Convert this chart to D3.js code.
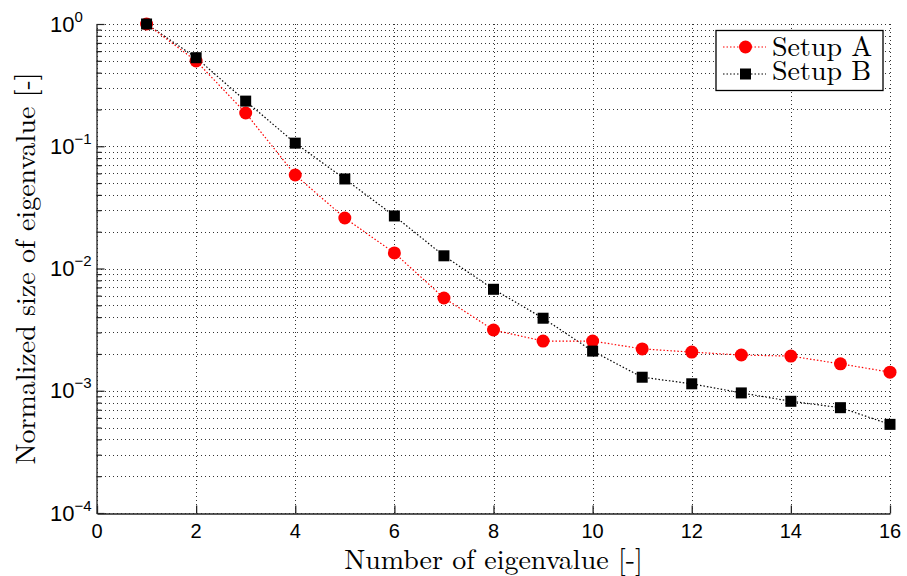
<!DOCTYPE html>
<html>
<head>
<meta charset="utf-8">
<script src="https://cdn.jsdelivr.net/npm/d3@7"></script>
<style>
  body { margin: 0; background: #fff; }
  svg { display: block; }
</style>
</head>
<body>
<svg id="chart" width="907" height="576"></svg>
<script>
// Eigenvalue index and normalized eigenvalue sizes for both setups
const eigIndex = [1, 2, 3, 4, 5, 6, 7, 8, 9, 10, 11, 12, 13, 14, 15, 16];
const setupA = [1.0, 0.498, 0.187, 0.0582, 0.0259, 0.0134, 0.00574, 0.00314,
                0.00255, 0.00255, 0.0022, 0.00207, 0.00196, 0.00192, 0.00166, 0.00142];
const setupB = [1.0, 0.53, 0.234, 0.106, 0.054, 0.0269, 0.0127, 0.00676,
                0.00392, 0.00211, 0.00129, 0.00114, 0.00096, 0.00082, 0.000727, 0.000531];
const seriesNames = ["Setup A", "Setup B"];
const xTicks = [0, 2, 4, 6, 8, 10, 12, 14, 16];
const yExponents = [0, -1, -2, -3, -4];

const svg = d3.select("#chart");
const plotL = 97, plotR = 890, plotT = 24, plotB = 513;

const x = d3.scaleLinear().domain([0, 16]).range([plotL, plotR]);
const y = d3.scaleLog().domain([1e-4, 1]).range([plotB, plotT]);

const serif = "'Latin Modern Roman','CMU Serif','Liberation Serif','DejaVu Serif',serif";
const sans = "'Liberation Sans',Arial,Helvetica,sans-serif";

// Grid: minor and major log lines, plus vertical lines at x ticks
const gridG = svg.append("g").attr("stroke", "#333").attr("stroke-width", 1)
  .attr("stroke-dasharray", "1,3").attr("fill", "none");
const yGridVals = [];
for (let e = -4; e < 0; e++) for (let m = 1; m <= 9; m++) yGridVals.push(m * Math.pow(10, e));
yGridVals.push(1);
yGridVals.forEach(v => {
  const yy = Math.round(y(v)) + 0.5;
  gridG.append("line").attr("x1", plotL).attr("x2", plotR).attr("y1", yy).attr("y2", yy);
});
xTicks.forEach(t => {
  const xx = Math.round(x(t)) + 0.5;
  gridG.append("line").attr("x1", xx).attr("x2", xx).attr("y1", plotT).attr("y2", plotB);
});

// Axes (left and bottom) with inward ticks
const xAxis = d3.axisBottom(x).tickValues(xTicks).tickSizeInner(-8).tickSizeOuter(0).tickFormat("");
svg.append("g").attr("transform", `translate(0,${plotB + 0.5})`).call(xAxis)
  .call(g => g.selectAll("path,line").attr("stroke", "#222").attr("stroke-width", 1.3));

const yAxis = d3.axisLeft(y).tickValues(yGridVals).tickSizeOuter(0).tickFormat("")
  .tickSizeInner(0);
const yG = svg.append("g").attr("transform", `translate(${plotL - 0.5},0)`).call(yAxis);
yG.selectAll("path").attr("stroke", "#222").attr("stroke-width", 1.3);
yG.selectAll(".tick line")
  .attr("x2", d => Math.abs(Math.log10(d) - Math.round(Math.log10(d))) < 1e-9 ? 8 : 5)
  .attr("stroke", "#222").attr("stroke-width", 1.2);

// X tick labels
svg.append("g").selectAll("text").data(xTicks).join("text")
  .attr("x", d => x(d)).attr("y", 538)
  .attr("text-anchor", "middle").attr("font-family", sans).attr("font-size", 20)
  .text(d => d);

// Y tick labels as 10 with superscript exponent
const yl = svg.append("g").selectAll("text").data(yExponents).join("text")
  .attr("x", 50).attr("y", d => y(Math.pow(10, d)) + 7.5)
  .attr("text-anchor", "start").attr("font-family", sans).attr("font-size", 22);
yl.append("tspan").text("10");
yl.append("tspan").attr("dy", -10).attr("font-size", 15)
  .text(d => d === 0 ? "0" : "\u2212" + Math.abs(d));

// Axis titles
svg.append("text").attr("x", (plotL + plotR) / 2).attr("y", 569)
  .attr("text-anchor", "middle").attr("font-family", serif).attr("font-size", 28)
  .text("Number of eigenvalue [-]");
svg.append("text").attr("transform", `translate(35,${(plotT + plotB) / 2}) rotate(-90)`)
  .attr("text-anchor", "middle").attr("font-family", serif).attr("font-size", 28)
  .text("Normalized size of eigenvalue [-]");

// Series lines and markers
const line = d3.line().x((d, i) => x(eigIndex[i])).y(d => y(d));
svg.append("path").datum(setupB).attr("d", line).attr("fill", "none")
  .attr("stroke", "#000").attr("stroke-width", 1.2).attr("stroke-dasharray", "1.5,2");
svg.append("path").datum(setupA).attr("d", line).attr("fill", "none")
  .attr("stroke", "#ff0000").attr("stroke-width", 1.2).attr("stroke-dasharray", "1.5,2");

svg.append("g").selectAll("circle").data(setupA).join("circle")
  .attr("cx", (d, i) => x(eigIndex[i])).attr("cy", d => y(d)).attr("r", 6.5)
  .attr("fill", "#ff0000");
const sq = 11;
svg.append("g").selectAll("rect").data(setupB).join("rect")
  .attr("x", (d, i) => x(eigIndex[i]) - sq / 2).attr("y", d => y(d) - sq / 2)
  .attr("width", sq).attr("height", sq).attr("fill", "#000");

// Legend
const lg = svg.append("g");
lg.append("rect").attr("x", 716).attr("y", 30.5).attr("width", 167).attr("height", 60)
  .attr("fill", "#fff").attr("stroke", "#000").attr("stroke-width", 1.3);
const legendRows = [
  { name: seriesNames[0], color: "#ff0000", shape: "circle", yy: 47, base: 56 },
  { name: seriesNames[1], color: "#000", shape: "square", yy: 74, base: 80 }
];
legendRows.forEach(r => {
  lg.append("line").attr("x1", 723).attr("x2", 766).attr("y1", r.yy).attr("y2", r.yy)
    .attr("stroke", r.color).attr("stroke-width", 1.2).attr("stroke-dasharray", "1.5,2");
  if (r.shape === "circle") {
    lg.append("circle").attr("cx", 745.5).attr("cy", r.yy).attr("r", 6.5).attr("fill", r.color);
  } else {
    lg.append("rect").attr("x", 745.5 - sq / 2).attr("y", r.yy - sq / 2)
      .attr("width", sq).attr("height", sq).attr("fill", r.color);
  }
  lg.append("text").attr("x", 772).attr("y", r.base).attr("font-family", serif)
    .attr("font-size", 28).text(r.name);
});
</script>
</body>
</html>
